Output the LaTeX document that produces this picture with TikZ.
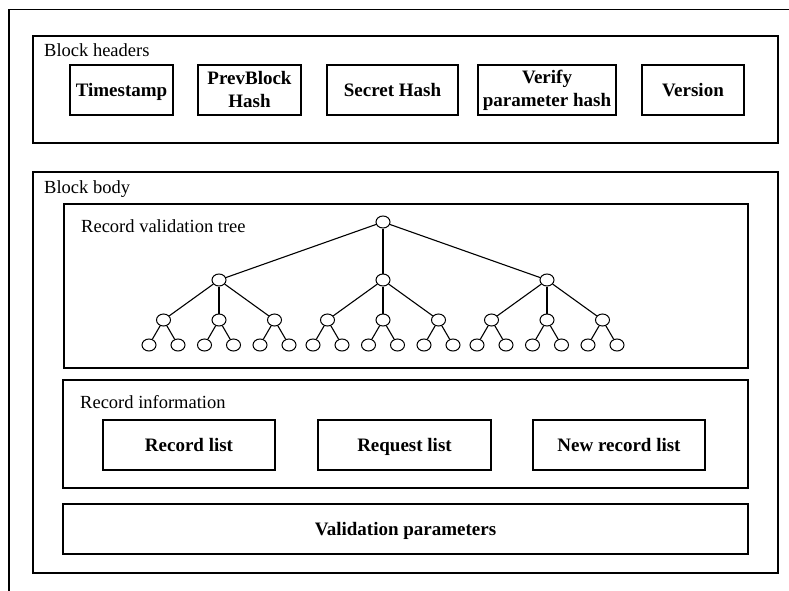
\documentclass[tikz,border=0pt]{standalone}
\usepackage{fontspec}
\setmainfont{Liberation Serif}
\usetikzlibrary{shapes.geometric}
\begin{document}
\begin{tikzpicture}[x=1pt,y=-1pt,
  frame/.style={draw, line width=1.2pt, rectangle, inner sep=0pt, outer sep=0pt},
  field/.style={frame, font=\fontsize{19}{23}\selectfont\bfseries, align=center, minimum height=50pt},
  oneline/.style={field, text height=12.5pt, text depth=0pt},
  caption/.style={anchor=base west, inner sep=0pt, font=\fontsize{18.5}{21}\selectfont},
  vtx/.style={draw, ellipse, line width=1pt, minimum width=14pt, minimum height=12pt, inner sep=0pt, fill=white},
  edge/.style={line width=1.1pt}]
\useasboundingbox (0,0) rectangle (789,591);

% outer block frame (continues past the page edges)
\draw[line width=1.2pt] (789,9.5) -- (9,9.5) -- (9,591);

% block headers
\node[frame, minimum width=745pt, minimum height=107pt] (headers) at (405.5,89.5) {};
\node[caption] (headerscap) at (44,57) {Block headers};
\node[oneline, minimum width=103pt] (ts) at (121.5,90) {Timestamp};
\node[field, minimum width=103pt] (prev) at (249.5,90) {PrevBlock\\Hash};
\node[oneline, minimum width=131pt] (secret) at (392.5,90) {Secret Hash};
\node[field, minimum width=138pt] (verify) at (547,90) {Verify\\parameter hash};
\node[oneline, minimum width=102pt] (version) at (693,90) {Version};

% block body
\node[frame, minimum width=745pt, minimum height=401pt] (body) at (405.5,372.5) {};
\node[caption] (bodycap) at (44,193) {Block body};

% record validation tree
\node[frame, minimum width=684pt, minimum height=164pt] (treebox) at (406,286) {};
\node[caption] (treecap) at (81,232) {Record validation tree};

\node[vtx] (r) at (383,222) {};
\foreach \i/\x in {1/219, 2/383, 3/547} {
  \node[vtx] (n\i) at (\x,280) {};
  \draw[edge] (r) -- (n\i);
  \foreach \j in {1,2,3} {
    \pgfmathsetmacro\xx{\x+(\j-2)*55.5}
    \node[vtx] (n\i\j) at (\xx,320) {};
    \draw[edge] (n\i) -- (n\i\j);
    \node[vtx] (n\i\j l) at (\xx-14.5,345) {};
    \node[vtx] (n\i\j r) at (\xx+14.5,345) {};
    \draw[edge] (n\i\j) -- (n\i\j l);
    \draw[edge] (n\i\j) -- (n\i\j r);
  }
}

% record information
\node[frame, minimum width=685pt, minimum height=108pt] (infobox) at (405.5,434) {};
\node[caption] (infocap) at (80,408) {Record information};
\node[oneline, minimum width=172pt] (reclist) at (189,445) {Record list};
\node[oneline, minimum width=173pt] (reqlist) at (404.5,445) {Request list};
\node[oneline, minimum width=172pt] (newlist) at (619,445) {New record list};

% validation parameters
\node[oneline, minimum width=685pt] (params) at (405.5,529) {Validation parameters};
\end{tikzpicture}
\end{document}
